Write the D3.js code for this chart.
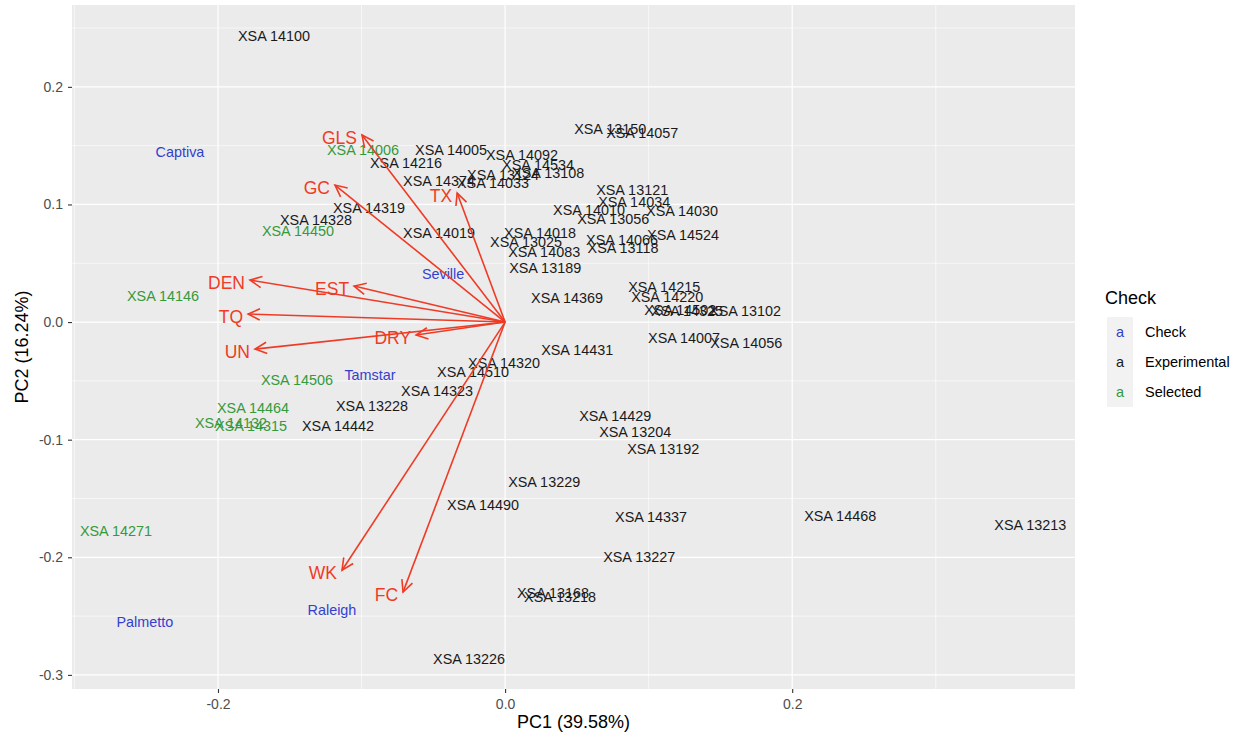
<!DOCTYPE html>
<html>
<head>
<meta charset="utf-8">
<script src="https://cdn.jsdelivr.net/npm/d3@7"></script>
<style>
  html, body { margin: 0; padding: 0; background: #ffffff; }
  svg text { font-family: "Liberation Sans", Arial, Helvetica, sans-serif; }
</style>
</head>
<body>
<svg id="chart" width="1241" height="738"></svg>
<script>
// ---------------- DATA ----------------
const expNames = ["XSA 14100","XSA 13150","XSA 14057","XSA 14005","XSA 14092","XSA 14216","XSA 14534","XSA 13108",
  "XSA 14374","XSA 13124","XSA 14033","XSA 14319","XSA 14328","XSA 14019","XSA 13121","XSA 14034","XSA 14010",
  "XSA 14030","XSA 13056","XSA 14018","XSA 13025","XSA 14083","XSA 14066","XSA 14524","XSA 13118","XSA 13189",
  "XSA 14369","XSA 14215","XSA 14220","XSA 14502","XSA 14325","XSA 13102","XSA 14007","XSA 14056","XSA 14431",
  "XSA 14320","XSA 14510","XSA 14323","XSA 13228","XSA 14442","XSA 14429","XSA 13204","XSA 13192","XSA 13229",
  "XSA 14490","XSA 14337","XSA 13227","XSA 14468","XSA 13213","XSA 13168","XSA 13218","XSA 13226"];
const expPC1 = [-0.161,0.0732,0.0955,-0.0376,0.0118,-0.069,0.023,0.030,
  -0.046,-0.0014,-0.0084,-0.0948,-0.1317,-0.046,0.0885,0.0899,0.0585,
  0.1233,0.0753,0.0244,0.0146,0.0272,0.0815,0.124,0.0822,0.0279,
  0.0432,0.1108,0.1129,0.122,0.1268,0.1672,0.1247,0.168,0.0502,
  -0.0007,-0.0223,-0.0474,-0.0927,-0.1164,0.0767,0.0906,0.1101,0.0272,
  -0.0153,0.1017,0.0934,0.2334,0.3659,0.0334,0.0383,-0.0251];
const expPC2 = [0.243,0.164,0.161,0.146,0.142,0.135,0.1335,0.1267,
  0.120,0.125,0.118,0.097,0.0867,0.0757,0.1122,0.102,0.0952,
  0.0944,0.0876,0.0757,0.068,0.0595,0.0697,0.074,0.0629,0.0459,
  0.0204,0.0298,0.0213,0.0102,0.0094,0.0094,-0.0136,-0.0179,-0.0238,
  -0.0349,-0.0425,-0.0587,-0.0714,-0.0884,-0.0799,-0.0935,-0.108,-0.136,
  -0.1556,-0.1658,-0.1998,-0.165,-0.1726,-0.2304,-0.2338,-0.2866];

const selNames = ["XSA 14006","XSA 14450","XSA 14146","XSA 14506","XSA 14464","XSA 14132","XSA 14315","XSA 14271"];
const selPC1 = [-0.099,-0.1443,-0.2383,-0.145,-0.1756,-0.191,-0.177,-0.2711];
const selPC2 = [0.146,0.0774,0.0221,-0.0493,-0.0731,-0.0859,-0.0884,-0.1777];

const checkNames = ["Captiva","Seville","Tamstar","Raleigh","Palmetto"];
const checkPC1 = [-0.2265,-0.0432,-0.0941,-0.1206,-0.2509];
const checkPC2 = [0.1446,0.0408,-0.0451,-0.2449,-0.2551];

const varNames = ["GLS","GC","TX","DEN","EST","TQ","UN","DRY","WK","FC"];
const varPC1 = [-0.0997,-0.1185,-0.0334,-0.1777,-0.1052,-0.179,-0.1742,-0.062,-0.1136,-0.0711];
const varPC2 = [0.159,0.1165,0.1097,0.0357,0.0306,0.0068,-0.023,-0.011,-0.211,-0.2296];

const groupNames = ["Check","Experimental","Selected"];
const xTicks = [-0.2, 0.0, 0.2];
const yTicks = [0.2, 0.1, 0.0, -0.1, -0.2, -0.3];
const xMinor = [-0.3, -0.1, 0.1, 0.3];
const yMinor = [0.25, 0.15, 0.05, -0.05, -0.15, -0.25];
const xTitle = "PC1 (39.58%)";
const yTitle = "PC2 (16.24%)";
const legendTitle = "Check";

// ---------------- LAYOUT ----------------
const panel = { left: 72, right: 1075, top: 5, bottom: 689 };
const colors = { Check: "#3340cf", Experimental: "#1a1a1a", Selected: "#36993a" };
const arrowColor = "#ef3b26";

const svg = d3.select("#chart");
const x = d3.scaleLinear().domain([-0.3017, 0.397]).range([panel.left, panel.right]);
const y = d3.scaleLinear().domain([-0.312, 0.2696]).range([panel.bottom, panel.top]);

// panel background
svg.append("rect")
  .attr("x", panel.left).attr("y", panel.top)
  .attr("width", panel.right - panel.left).attr("height", panel.bottom - panel.top)
  .attr("fill", "#EBEBEB");

const grid = svg.append("g");
grid.selectAll(".xminor").data(xMinor).join("line")
  .attr("x1", d => x(d)).attr("x2", d => x(d))
  .attr("y1", panel.top).attr("y2", panel.bottom)
  .attr("stroke", "#fff").attr("stroke-width", 0.6);
grid.selectAll(".yminor").data(yMinor).join("line")
  .attr("y1", d => y(d)).attr("y2", d => y(d))
  .attr("x1", panel.left).attr("x2", panel.right)
  .attr("stroke", "#fff").attr("stroke-width", 0.6);
grid.selectAll(".xmajor").data(xTicks).join("line")
  .attr("x1", d => x(d)).attr("x2", d => x(d))
  .attr("y1", panel.top).attr("y2", panel.bottom)
  .attr("stroke", "#fff").attr("stroke-width", 1.2);
grid.selectAll(".ymajor").data(yTicks).join("line")
  .attr("y1", d => y(d)).attr("y2", d => y(d))
  .attr("x1", panel.left).attr("x2", panel.right)
  .attr("stroke", "#fff").attr("stroke-width", 1.2);

// axes
const fmt = d => d3.format(".1f")(d).replace("\u2212", "-");
const xAxis = svg.append("g")
  .attr("transform", `translate(0,${panel.bottom})`)
  .call(d3.axisBottom(x).tickValues(xTicks).tickFormat(fmt).tickSize(4).tickPadding(6));
const yAxis = svg.append("g")
  .attr("transform", `translate(${panel.left},0)`)
  .call(d3.axisLeft(y).tickValues(yTicks).tickFormat(fmt).tickSize(4).tickPadding(5));
[xAxis, yAxis].forEach(a => {
  a.select(".domain").remove();
  a.selectAll(".tick line").attr("stroke", "#333333").attr("stroke-width", 1.1);
  a.selectAll(".tick text").attr("fill", "#4D4D4D").attr("font-size", 14)
    .attr("font-family", "Liberation Sans, Arial, sans-serif");
});

// axis titles
svg.append("text")
  .attr("x", (panel.left + panel.right) / 2).attr("y", 728)
  .attr("text-anchor", "middle").attr("font-size", 18).attr("fill", "#000")
  .text(xTitle);
svg.append("text")
  .attr("transform", `translate(28,${(panel.top + panel.bottom) / 2}) rotate(-90)`)
  .attr("text-anchor", "middle").attr("font-size", 18).attr("fill", "#000")
  .text(yTitle);

// point labels
const plot = svg.append("g");
function drawLabels(names, xs, ys, group) {
  plot.append("g").selectAll("text").data(names).join("text")
    .attr("x", (d, i) => x(xs[i]))
    .attr("y", (d, i) => y(ys[i]))
    .attr("dy", "0.35em")
    .attr("text-anchor", "middle")
    .attr("font-size", 14.4)
    .attr("fill", colors[group])
    .text(d => d);
}
drawLabels(expNames, expPC1, expPC2, "Experimental");
drawLabels(selNames, selPC1, selPC2, "Selected");
drawLabels(checkNames, checkPC1, checkPC2, "Check");

// arrows
const arrows = svg.append("g");
const ox = x(0), oy = y(0);
const headLen = 13, headAng = Math.PI / 7;
varNames.forEach((name, i) => {
  const tx = x(varPC1[i]), ty = y(varPC2[i]);
  arrows.append("line")
    .attr("x1", ox).attr("y1", oy).attr("x2", tx).attr("y2", ty)
    .attr("stroke", arrowColor).attr("stroke-width", 1.6);
  const ang = Math.atan2(ty - oy, tx - ox);
  const p1 = [tx - headLen * Math.cos(ang - headAng), ty - headLen * Math.sin(ang - headAng)];
  const p2 = [tx - headLen * Math.cos(ang + headAng), ty - headLen * Math.sin(ang + headAng)];
  arrows.append("path")
    .attr("d", `M${p1[0]},${p1[1]}L${tx},${ty}L${p2[0]},${p2[1]}`)
    .attr("fill", "none").attr("stroke", arrowColor).attr("stroke-width", 1.6)
    .attr("stroke-linejoin", "miter");
  arrows.append("text")
    .attr("x", tx - 5).attr("y", ty + 3)
    .attr("dy", "0.35em")
    .attr("text-anchor", "end")
    .attr("font-size", 17.5)
    .attr("fill", arrowColor)
    .text(name);
});

// legend
const lg = svg.append("g");
lg.append("text").attr("x", 1105).attr("y", 304).attr("font-size", 18).attr("fill", "#000").text(legendTitle);
groupNames.forEach((g, i) => {
  const cy = 332 + i * 30;
  lg.append("rect").attr("x", 1107).attr("y", cy - 15).attr("width", 26).attr("height", 30).attr("fill", "#F2F2F2");
  lg.append("text").attr("x", 1120).attr("y", cy).attr("dy", "0.35em").attr("text-anchor", "middle")
    .attr("font-size", 14.5).attr("fill", colors[g]).text("a");
  lg.append("text").attr("x", 1145).attr("y", cy).attr("dy", "0.35em")
    .attr("font-size", 14.5).attr("fill", "#000").text(g);
});
</script>
</body>
</html>
